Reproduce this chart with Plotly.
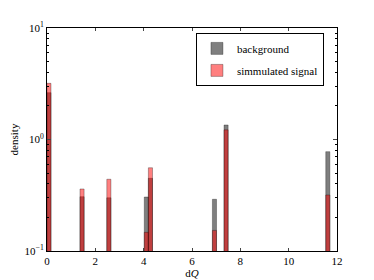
import plotly.graph_objects as go

bin_centers = [0.08, 1.45, 2.56, 4.11, 4.28, 6.93, 7.41, 11.62]
background = [2.63, 0.307, 0.30, 0.305, 0.449, 0.291, 1.35, 0.778]
signal = [3.19, 0.36, 0.44, 0.147, 0.558, 0.153, 1.22, 0.318]
bin_width = 0.17

x_ticks = [0, 2, 4, 6, 8, 10, 12]
y_ticks = [0.1, 1, 10]
y_ticktext = ["10<sup>−1</sup>", "10<sup>0</sup>", "10<sup>1</sup>"]
y_minor = [m * d for d in (0.1, 1) for m in range(2, 10)]

font = "Liberation Serif"
fig = go.Figure()
fig.add_trace(go.Bar(x=bin_centers, y=background, width=bin_width, name="background",
                     legendgroup="bg",
                     marker=dict(color="rgba(0,0,0,0.5)", line=dict(color="rgba(0,0,0,0.5)", width=0.6))))
fig.add_trace(go.Bar(x=bin_centers, y=signal, width=bin_width, name="simmulated signal",
                     legendgroup="sig",
                     marker=dict(color="rgba(255,0,0,0.5)", line=dict(color="rgba(0,0,0,0.5)", width=0.6))))
# invisible trace to carry the minor-tick axis
fig.add_trace(go.Scatter(x=[None], y=[None], yaxis="y2", showlegend=False, hoverinfo="skip"))

# page body has an 8px margin, so the figure is sized/margined to compensate
fig.update_layout(
    width=366, height=272,
    margin=dict(l=39, r=37, t=20, b=29),
    barmode="overlay",
    plot_bgcolor="white", paper_bgcolor="white",
    font=dict(family=font, size=11, color="black"),
    showlegend=True,
    legend=dict(x=0.955, y=0.978, xanchor="right", yanchor="top",
                bordercolor="black", borderwidth=1, bgcolor="white",
                font=dict(family=font, size=11), tracegroupgap=3,
                itemwidth=30),
    xaxis=dict(range=[0, 12], tickvals=x_ticks, ticks="inside", ticklen=3,
               showline=True, linecolor="black", linewidth=1, mirror="ticks",
               showgrid=False, zeroline=False, automargin=False,
               title=dict(text="d<i>Q</i>", standoff=0, font=dict(size=11))),
    yaxis=dict(type="log", range=[-1, 1], tickvals=y_ticks, ticktext=y_ticktext,
               ticks="inside", ticklen=4,
               showline=True, linecolor="black", linewidth=1, mirror="ticks",
               showgrid=False, zeroline=False, automargin=False,
               title=dict(text="density", standoff=8, font=dict(size=11))),
    yaxis2=dict(type="log", range=[-1, 1], overlaying="y", side="left",
                tickvals=y_minor, ticktext=[""] * len(y_minor),
                ticks="inside", ticklen=2, tickcolor="black", mirror="ticks",
                showline=False, showgrid=False, zeroline=False, automargin=False),
)
fig.write_html("out.html")
